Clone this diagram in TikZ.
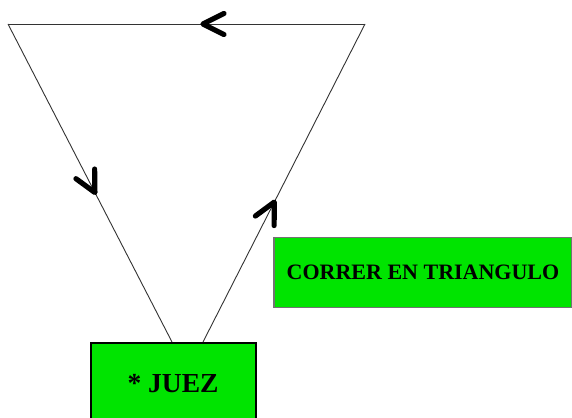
\documentclass[tikz,border=0pt]{standalone}
\usepackage{fontspec}
\setmainfont{Liberation Serif}
\usetikzlibrary{decorations.markings,calc}
\definecolor{boxgreen}{RGB}{0,228,0}
\tikzset{
  chev/.style={postaction={decorate},decoration={markings,
    mark=at position #1 with {\draw[line width=5.2pt,line cap=round,line join=round,black]
      (-21pt,10.5pt)--(0pt,0pt)--(-21pt,-10.5pt);}}},
  edge/.style={draw=black!80,line width=0.9pt},
  greenbox/.style={rectangle,fill=boxgreen,inner sep=0pt,font=\bfseries}
}
\begin{document}
\begin{tikzpicture}[x=1pt,y=-1pt]
\useasboundingbox (0,0) rectangle (572,417);
\clip (0,0) rectangle (572,417);
\fill[white] (0,0) rectangle (572,417);
\node[greenbox,draw=black,line width=2pt,minimum width=165pt,minimum height=84pt,
  font=\bfseries\fontsize{27.5}{30}\selectfont] (juez) at (173,385) {\raisebox{3pt}{* JUEZ}};
\node[greenbox,draw=black!55,line width=1.5pt,minimum width=298pt,minimum height=70pt,
  font=\bfseries\fontsize{22}{26}\selectfont] (correr) at (423,272.5) {\raisebox{1pt}{CORRER EN TRIANGULO}};
\coordinate (A) at (8,24);
\coordinate (B) at (365,24);
\coordinate (L) at ([xshift=-1pt]juez.north);
\coordinate (R) at ([xshift=30pt]juez.north);
\draw[edge,chev=0.454] (B) -- (A);
\draw[edge,chev=0.53] (A) -- (L);
\draw[edge,chev=0.44] (R) -- (B);
\end{tikzpicture}
\end{document}
